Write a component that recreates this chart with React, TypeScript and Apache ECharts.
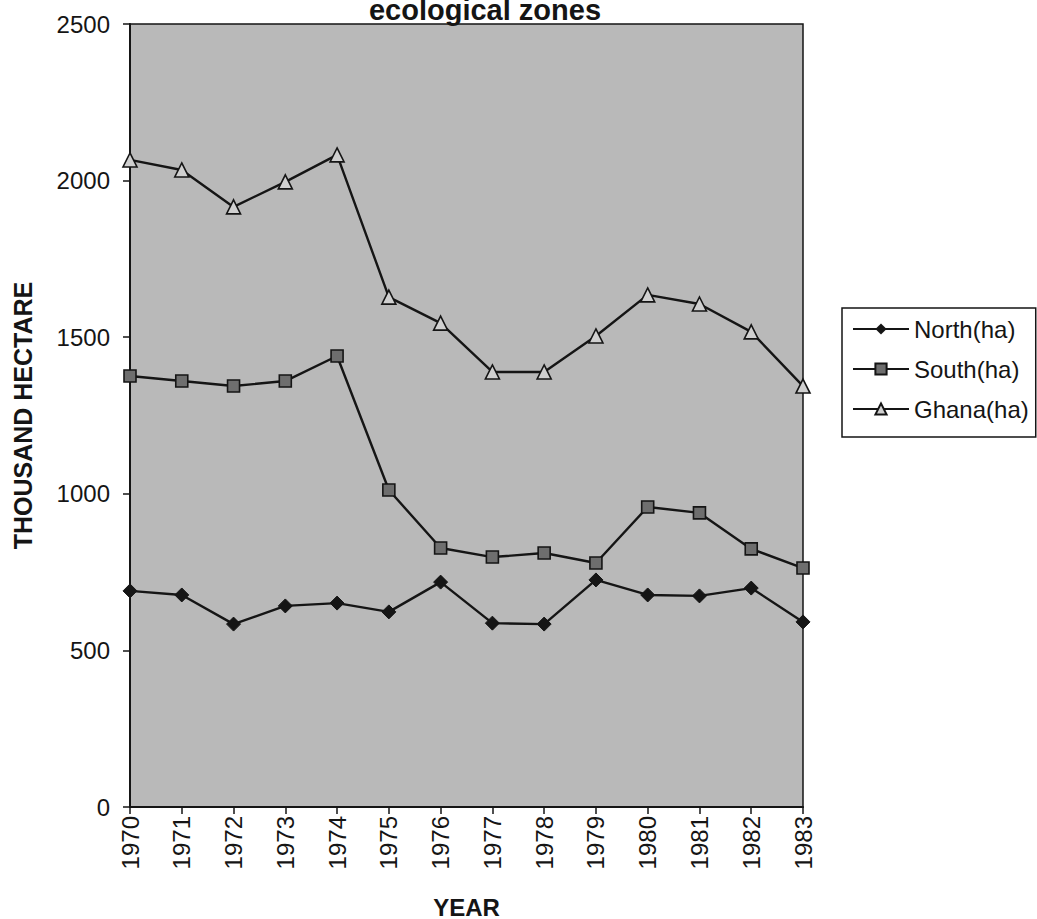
import React, { useEffect, useRef } from "react";
import * as echarts from "echarts";

// Years on the horizontal axis
const years = [
  "1970", "1971", "1972", "1973", "1974", "1975", "1976",
  "1977", "1978", "1979", "1980", "1981", "1982", "1983",
];

// Area in thousand hectares
const north = [690, 677, 584, 642, 651, 623, 718, 587, 584, 725, 677, 674, 699, 591];
const south = [1376, 1360, 1344, 1360, 1440, 1012, 827, 798, 811, 779, 958, 939, 824, 763];
const ghana = [2066, 2034, 1916, 1996, 2082, 1628, 1545, 1389, 1389, 1504, 1635, 1606, 1517, 1344];

const PLOT_BG = "#b9b9b9";
const FONT = "Liberation Sans, Arial, sans-serif";
const INK = "#151515";

export default function App() {
  const ref = useRef<HTMLDivElement>(null);

  useEffect(() => {
    if (!ref.current) return;
    const chart = echarts.init(ref.current, undefined, { renderer: "svg" });

    const lineStyle = { color: INK, width: 2.4 };

    chart.setOption({
      animation: false,
      backgroundColor: "#ffffff",
      textStyle: { fontFamily: FONT },
      title: {
        text: "ecological zones",
        left: 480,
        top: -10,
        textAlign: "center",
        textStyle: { fontSize: 29, fontWeight: "bold", color: INK, fontFamily: FONT },
      },
      grid: {
        left: 130,
        right: 234,
        top: 24,
        bottom: 112,
        outerBoundsMode: "none",
        containLabel: false,
        show: true,
        backgroundColor: PLOT_BG,
        borderColor: INK,
        borderWidth: 1.5,
      },
      legend: {
        orient: "vertical",
        left: 842,
        top: 308,
        itemWidth: 56,
        itemHeight: 14,
        itemGap: 16,
        padding: [9, 7, 16, 10],
        borderColor: INK,
        borderWidth: 1.5,
        backgroundColor: "#fff",
        textStyle: { fontSize: 24, color: INK, fontFamily: FONT },
        data: ["North(ha)", "South(ha)", "Ghana(ha)"],
      },
      xAxis: {
        type: "category",
        data: years,
        boundaryGap: false,
        name: "YEAR",
        nameLocation: "middle",
        nameGap: 88,
        nameTextStyle: { fontSize: 24, fontWeight: "bold", color: INK, fontFamily: FONT },
        axisLine: { lineStyle: { color: INK, width: 2 } },
        axisTick: { show: true, length: 7, alignWithLabel: true, lineStyle: { color: INK, width: 1.5 } },
        axisLabel: { rotate: 90, fontSize: 24, color: INK, margin: 9, fontFamily: FONT },
        splitLine: { show: false },
      },
      yAxis: {
        type: "value",
        min: 0,
        max: 2500,
        interval: 500,
        name: "THOUSAND HECTARE",
        nameLocation: "middle",
        nameRotate: 90,
        nameGap: 95,
        nameTextStyle: { fontSize: 25, fontWeight: "bold", color: INK, fontFamily: FONT },
        axisLine: { show: true, lineStyle: { color: INK, width: 2 } },
        axisTick: { show: true, length: 7, lineStyle: { color: INK, width: 1.5 } },
        axisLabel: {
          fontSize: 24,
          color: INK,
          margin: 20,
          fontFamily: FONT,
          formatter: (v: number) => String(v),
        },
        splitLine: { show: false },
      },
      series: [
        {
          name: "North(ha)",
          type: "line",
          data: north,
          symbol: "diamond",
          symbolSize: 14,
          lineStyle,
          itemStyle: { color: INK, borderColor: INK },
        },
        {
          name: "South(ha)",
          type: "line",
          data: south,
          symbol: "rect",
          symbolSize: 12,
          lineStyle,
          itemStyle: { color: "#6e6e6e", borderColor: INK, borderWidth: 1.6 },
        },
        {
          name: "Ghana(ha)",
          type: "line",
          data: ghana,
          symbol: "triangle",
          symbolSize: 14,
          lineStyle,
          itemStyle: { color: "#d0d0d0", borderColor: INK, borderWidth: 1.6 },
        },
      ],
    });

    return () => chart.dispose();
  }, []);

  return (
    <div
      ref={ref}
      style={{ position: "fixed", left: 0, top: 0, width: 1037, height: 919 }}
    />
  );
}
